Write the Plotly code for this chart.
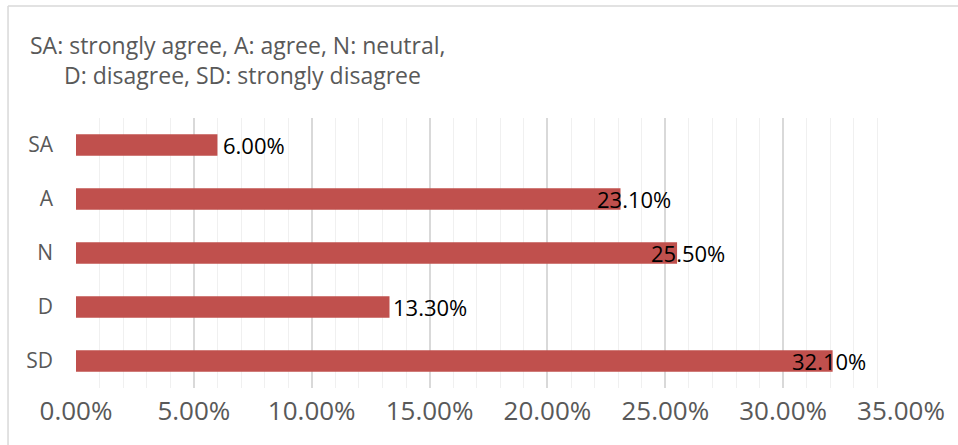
import plotly.graph_objects as go

categories = ["SA", "A", "N", "D", "SD"]
values = [0.060, 0.231, 0.255, 0.133, 0.321]
value_labels = ["6.00%", "23.10%", "25.50%", "13.30%", "32.10%"]
label_shifts = [4, -26, -28, 1, -43]
title_lines = ["SA: strongly agree, A: agree, N: neutral,", "D: disagree, SD: strongly disagree"]

BAR = "#C0504D"
GRAY = "#595959"
FONT = "Open Sans"

fig = go.Figure(go.Bar(
    y=categories, x=values, orientation="h",
    marker=dict(color=BAR, line=dict(width=0)),
    width=0.4, hoverinfo="skip",
))

ann = []
for c, v, t, s in zip(categories, values, value_labels, label_shifts):
    ann.append(dict(x=v, y=c, xref="x", yref="y", text=t, showarrow=False,
                    xanchor="left", yanchor="middle", xshift=s,
                    font=dict(family=FONT, size=22, color="#000000")))

ann.append(dict(x=-0.058, y=1.27, xref="paper", yref="paper", text=title_lines[0],
                showarrow=False, xanchor="left", yanchor="middle",
                font=dict(family=FONT, size=23, color=GRAY)))
ann.append(dict(x=-0.017, y=1.159, xref="paper", yref="paper", text=title_lines[1],
                showarrow=False, xanchor="left", yanchor="middle",
                font=dict(family=FONT, size=23, color=GRAY)))

shapes = [
    dict(type="line", xref="paper", yref="paper", x0=-0.0824, x1=1.2, y0=1.4148, y1=1.4148,
         line=dict(color="#D9D9D9", width=1.5)),
    dict(type="line", xref="paper", yref="paper", x0=-0.0824, x1=-0.0824, y0=-0.5, y1=1.4148,
         line=dict(color="#D9D9D9", width=1.5)),
]

fig.update_layout(
    width=958, height=445,
    margin=dict(l=76, r=57, t=118, b=57),
    paper_bgcolor="white", plot_bgcolor="white",
    showlegend=False,
    annotations=ann, shapes=shapes,
    xaxis=dict(range=[0, 0.35], dtick=0.05, tickformat=".2%",
               showgrid=True, gridcolor="#D9D9D9", gridwidth=1.5,
               minor=dict(dtick=0.01, showgrid=True, gridcolor="#F0F0F0", gridwidth=1),
               zeroline=False, showline=False, ticks="",
               ticklabelstandoff=5,
               tickfont=dict(family=FONT, size=26, color=GRAY)),
    yaxis=dict(categoryorder="array", categoryarray=categories, autorange="reversed",
               showgrid=False, zeroline=False, showline=False, ticks="",
               ticklabelstandoff=22,
               tickfont=dict(family=FONT, size=21, color=GRAY)),
)

fig.write_html("out.html")
